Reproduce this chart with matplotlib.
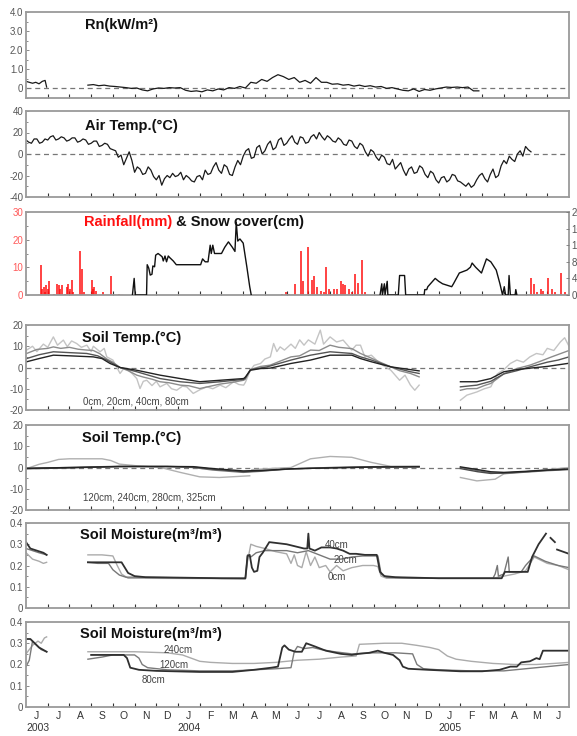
import numpy as np
import matplotlib
matplotlib.use("Agg")
import matplotlib.pyplot as plt
from matplotlib.ticker import MultipleLocator

plt.rcParams["font.family"] = ["Liberation Sans", "DejaVu Sans"]

# x axis is in months counted from 1 Jun 2003
MONTHS = ["J", "J", "A", "S", "O", "N", "D", "J", "F", "M", "A", "M",
          "J", "J", "A", "S", "O", "N", "D", "J", "F", "M", "A", "M", "J"]
YEARS = [(0.55, "2003"), (7.5, "2004"), (19.5, "2005")]

# ---- net radiation (kW/m2) ----
rn_a = [(0.0, 0.35), (0.15, 0.3), (0.3, 0.25), (0.45, 0.3), (0.6, 0.22),
        (0.75, 0.35), (0.88, 0.4), (0.95, 0.05)]
rn_b_start = 2.85
rn_b = [0.15, 0.18, 0.12, 0.15, 0.1, 0.08, 0.05, 0.02, -0.02, 0.0, -0.1, -0.15,
        -0.05, 0.0, -0.02, 0.02, 0.0, 0.02, -0.12, -0.18, -0.15, -0.2, -0.1, -0.15,
        -0.05, -0.1, 0.02, -0.02, 0.08, 0.0, 0.3, 0.25, 0.45, 0.35, 0.55, 0.7,
        0.6, 0.45, 0.55, 0.3, 0.4, 0.25, 0.55, 0.3, 0.3, 0.2, 0.22, 0.15,
        0.18, 0.1, 0.15, 0.08, 0.12, 0.05, 0.08, -0.02, 0.02, -0.05, -0.12, -0.15,
        -0.05, -0.18, -0.08, -0.12, -0.05, 0.0, 0.05, 0.03, 0.05, 0.02, 0.05, -0.15,
        -0.15]

# ---- air temperature (deg C), every eighth of a month from 1 Jun 2003 ----
air = [13, 11, 10, 14, 14, 10, 11, 14,
       13, 16, 17, 13, 14, 16, 15, 12,
       13, 15, 15, 11, 12, 14, 13, 9,
       10, 12, 12, 7, 8, 10, 9, 5,
       4, 3, -3, -1, -10, -4, 2, -6,
       -17, -12, -14, -19, -18, -12, -15, -21,
       -24, -20, -29, -23, -20, -22, -18, -21,
       -20, -17, -24, -20, -22, -25, -26, -21,
       -20, -24, -15, -19, -18, -12, -8, -15,
       -18, -10, -12, -19, -20, -12, -6, -10,
       -2, 3, 5, -4, -3, 6, 8, 0,
       3, 9, 12, 4, 6, 13, 15, 8,
       10, 14, 17, 11, 9, 16, 15, 10,
       11, 16, 18, 14, 20, 16, 13, 17,
       15, 12, 11, 15, 13, 9, 8, 13,
       12, 7, 5, 10, 8, 2, -2, 4,
       2, -3, -6, -1, -3, -9, -10, -5,
       -14, -11, -8, -15, -20, -14, -12, -18,
       -17, -11, -13, -19, -22, -16, -18, -24,
       -27, -22, -21, -26, -24, -19, -20, -25,
       -26, -28, -30, -27, -31, -29, -24, -20,
       -18, -23, -26, -19, -14, -22, -20, -11,
       -6, -9, -2, -5, -7, 0, 3, -2,
       7, 4, 2]

# ---- rainfall (mm) and snow cover (cm) ----
rain = [(0.68, 11), (0.75, 2), (0.82, 3), (0.87, 1), (0.92, 3.5), (0.99, 2),
        (1.06, 5), (1.3, 0.5), (1.45, 4), (1.52, 3.5), (1.58, 2), (1.66, 3.5),
        (1.8, 0.5), (1.88, 3), (1.95, 4), (2.02, 2), (2.1, 5.5), (2.16, 1),
        (2.49, 16), (2.6, 9.5), (2.66, 1), (3.03, 5.5), (3.08, 2), (3.15, 3),
        (3.22, 1.5), (3.56, 1), (3.92, 7), (4.3, 0.5),
        (11.8, 0.5), (11.95, 1), (12.1, 0.5), (12.38, 4), (12.64, 16), (12.76, 5),
        (12.98, 17.5), (13.15, 5.5), (13.28, 7), (13.4, 3), (13.57, 1.5), (13.7, 1),
        (13.79, 10), (13.95, 2), (14.17, 2), (14.33, 2), (14.51, 5), (14.6, 4),
        (14.68, 3.5), (14.85, 2), (15.0, 1), (15.14, 7.5), (15.3, 4.5), (15.48, 12.5),
        (15.62, 1),
        (23.27, 6), (23.4, 4), (23.52, 1), (23.7, 2), (23.78, 1.5), (24.03, 6),
        (24.2, 2), (24.37, 1), (24.63, 8), (24.8, 1)]
rain_seasons = [(0.55, 4.4), (11.75, 15.7), (23.15, 25.0)]
snow = [(4.9, 0), (4.98, 4.0), (5.03, 0), (5.55, 0), (5.58, 7.3), (5.65, 6.5),
        (5.72, 4.8), (5.8, 5.0), (5.84, 7.0), (5.92, 6.8), (5.97, 9.6), (6.08, 10.0),
        (6.18, 9.6), (6.27, 9.2), (6.32, 8.2), (6.4, 9.4), (6.47, 8.0), (6.55, 9.4),
        (6.62, 9.0), (6.78, 8.2), (6.92, 7.3), (7.28, 7.3), (8.04, 7.3), (8.13, 8.7),
        (8.25, 8.0), (8.38, 8.0), (8.48, 12.0), (8.53, 10.0), (8.6, 12.0), (8.68, 10.0),
        (9.0, 10.0), (9.15, 11.5), (9.32, 12.8), (9.5, 11.5), (9.62, 10.5), (9.68, 17.5),
        (9.75, 13.0), (9.85, 13.5), (10.0, 12.5), (10.17, 6.7), (10.3, 2.0), (10.37, 0),
        None,
        (16.3, 0), (16.38, 2.7), (16.41, 0), (16.5, 2.7), (16.53, 0), (16.63, 3.3),
        (16.66, 0), (17.14, 0), (17.2, 4.7), (17.43, 4.7), (17.48, 0), (18.33, 0),
        (18.36, 1.3), (18.45, 1.3), (18.5, 2.0), (18.84, 4.0), (19.0, 3.3), (19.18, 2.7),
        (19.6, 2.0), (19.68, 2.7), (19.95, 5.3), (20.3, 6.0), (20.46, 6.7), (20.54, 7.7),
        (20.7, 6.7), (20.97, 5.3), (21.2, 8.7), (21.4, 8.0), (21.65, 6.0), (21.82, 2.7),
        (21.94, 0), (22.02, 2.0), (22.08, 0), (22.2, 0), (22.24, 4.7), (22.3, 0),
        (22.52, 0), (22.55, 1.3), (22.6, 0)]

# ---- soil temperature 0-80 cm (deg C) ----
st0 = [(0.03, 8.2), (0.3, 10), (0.5, 7.5), (0.8, 11), (1.0, 9.5), (1.26, 14.4),
       (1.45, 10.5), (1.72, 12.9), (1.9, 9.8), (2.1, 12.5), (2.33, 11.3), (2.55, 9.5),
       (2.8, 10.5), (3.0, 7.5), (3.1, 10.0), (3.41, 7.4), (3.6, 9.0), (3.72, 5.0),
       (4.0, 3.5), (4.17, 0.3), (4.33, -2.8), (4.5, -0.5), (4.64, -0.5), (4.9, -3.0),
       (5.1, -5.2), (5.25, -9.9), (5.4, -6.5), (5.56, -6.0), (5.8, -8.5), (6.0, -6.5),
       (6.17, -9.1), (6.48, -7.5), (6.7, -10.0), (6.94, -10.7), (7.2, -8.8), (7.4, -9.1),
       (7.7, -12.2), (8.0, -10.5), (8.33, -9.1), (8.6, -10.0), (8.94, -8.3), (9.2, -9.5),
       (9.56, -6.7), (9.8, -8.0), (10.02, -8.3), (10.1, -7.0), (10.33, -1.3), (10.5, 1.0),
       (10.8, 1.9), (11.0, 4.0), (11.25, 5.0), (11.4, 11.3), (11.55, 7.5), (11.7, 9.7),
       (11.9, 8.2), (12.2, 11.0), (12.4, 9.0), (12.6, 13.0), (12.8, 10.5), (13.0, 13.0),
       (13.3, 11.0), (13.55, 17.6), (13.7, 11.0), (14.0, 14.4), (14.3, 12.0), (14.6, 12.9),
       (15.0, 8.2), (15.2, 10.5), (15.4, 10.5), (15.6, 5.0), (15.9, 5.8), (16.3, 1.9),
       (16.8, -1.3), (17.2, -6.0), (17.45, -3.6), (17.7, -8.3), (17.9, -10.7), (18.1, -8.3),
       None,
       (20.0, -15.4), (20.3, -13.0), (20.76, -11.5), (21.1, -10.0), (21.4, -9.1), (21.7, -3.0),
       (22.0, -1.0), (22.3, 1.9), (22.6, 3.5), (22.9, 2.5), (23.2, 5.0), (23.5, 6.6),
       (23.8, 6.0), (24.0, 9.0), (24.3, 8.0), (24.6, 12.0), (24.8, 14.0), (25.0, 10.0)]
st20 = [(0.03, 6.6), (0.5, 8.5), (1.0, 9.0), (1.26, 9.7), (1.6, 9.0), (2.0, 9.5),
        (2.4, 8.6), (2.8, 8.2), (3.1, 8.0), (3.4, 6.5), (3.72, 4.0), (4.0, 2.5),
        (4.33, 0.0), (4.7, -1.5), (5.1, -3.6), (5.4, -4.5), (5.8, -5.5), (6.17, -6.7),
        (6.6, -7.2), (7.1, -8.3), (7.5, -8.6), (8.0, -9.9), (8.4, -9.0), (8.94, -7.8),
        (9.5, -7.0), (10.02, -6.0), (10.1, -5.5), (10.33, -1.0), (10.8, 0.5), (11.24, 1.1),
        (11.7, 3.0), (12.2, 5.0), (12.6, 5.5), (13.1, 8.2), (13.5, 8.0), (14.0, 10.5),
        (14.4, 9.5), (15.0, 8.9), (15.4, 6.6), (15.9, 4.4), (16.3, 2.5), (16.8, 0.3),
        (17.2, -1.5), (17.7, -2.8), (18.1, -4.4),
        None,
        (20.0, -10.7), (20.3, -10.0), (20.76, -9.9), (21.1, -8.5), (21.4, -7.5), (22.0, -3.0),
        (22.6, -0.5), (23.2, 1.1), (23.7, 3.0), (24.2, 5.0), (24.6, 6.5), (25.0, 8.0)]
st40 = [(0.03, 4.2), (0.6, 6.0), (1.26, 7.4), (2.0, 7.0), (2.8, 6.6), (3.3, 5.5),
        (3.72, 3.5), (4.33, 0.0), (5.1, -2.0), (5.6, -3.5), (6.17, -5.2), (7.1, -6.7),
        (8.0, -7.5), (8.94, -6.7), (10.02, -5.6), (10.1, -5.0), (10.33, -1.0), (11.1, 0.3),
        (12.2, 3.5), (13.1, 5.8), (14.0, 7.4), (15.0, 6.6), (15.4, 5.0), (15.9, 3.5),
        (16.8, 0.3), (17.7, -2.0), (18.1, -2.8),
        None,
        (20.0, -9.1), (20.76, -8.3), (21.4, -6.5), (22.0, -3.0), (22.6, -1.5), (23.2, 0.3),
        (24.0, 2.5), (24.5, 3.5), (25.0, 5.0)]
st80 = [(0.03, 2.7), (0.6, 4.2), (1.26, 5.8), (2.0, 5.5), (3.1, 5.0), (3.5, 4.2),
        (3.87, 1.9), (4.33, 0.0), (5.1, -1.3), (6.17, -3.6), (7.1, -5.2), (8.0, -6.7),
        (8.94, -6.0), (10.02, -5.2), (10.1, -4.5), (10.33, -1.3), (10.8, -0.5), (11.24, -0.3),
        (12.2, 1.9), (13.1, 3.5), (14.0, 5.8), (15.0, 5.8), (15.4, 4.2), (15.9, 2.7),
        (16.8, 0.3), (17.7, -1.0), (18.1, -1.6),
        None,
        (20.0, -6.7), (20.76, -6.7), (21.4, -5.2), (22.0, -2.0), (22.6, -1.0), (23.2, -0.3),
        (24.0, 0.5), (25.0, 2.0)]

# ---- soil temperature 120-325 cm (deg C) ----
st120 = [(0.03, -0.5), (0.6, 1.5), (1.0, 2.4), (1.5, 3.8), (2.0, 4.1), (3.5, 4.1),
         (3.9, 3.3), (4.3, 1.6), (5.1, 0.8), (6.2, 0.0), (7.1, -2.3), (8.0, -4.4),
         (8.9, -4.7), (10.3, -3.9), None,
         (10.4, -1.0), (11.24, -0.5), (12.2, 0.0), (13.1, 4.1), (14.0, 5.2), (15.0, 4.8),
         (15.9, 2.4), (16.8, 0.5), (18.1, 0.5), None,
         (20.0, -4.7), (20.76, -6.3), (21.6, -5.5), (22.0, -3.0), (23.0, -2.0), (24.0, -1.0),
         (25.0, 0.0)]
st240 = [(0.03, -0.3), (2.0, 0.0), (4.3, 0.6), (6.5, 0.4), (7.7, 0.0), (8.6, -1.2),
         (10.0, -2.3), (10.8, -1.8), (11.7, -1.0), (12.2, -0.6), (14.0, 0.0), (16.0, 0.4),
         (18.1, 0.5), None,
         (20.0, 0.0), (20.8, -1.5), (21.4, -2.5), (22.0, -2.8), (23.0, -2.2), (24.0, -1.5),
         (25.0, -1.0)]
st280 = [(0.03, -0.6), (2.0, -0.2), (4.3, 0.5), (6.5, 0.5), (7.7, 0.2), (8.6, -0.8),
         (10.0, -2.0), (10.8, -1.6), (11.7, -1.0), (12.2, -0.7), (14.0, -0.1), (16.0, 0.3),
         (18.1, 0.4), None,
         (20.0, -0.5), (20.8, -2.0), (21.4, -2.8), (22.0, -2.6), (23.0, -2.0), (24.0, -1.3),
         (25.0, -0.8)]
st325 = [(0.03, -0.4), (2.0, 0.0), (4.3, 0.4), (6.5, 0.5), (7.7, 0.4), (8.6, -0.5),
         (10.0, -1.6), (10.8, -1.4), (11.7, -0.9), (12.2, -0.6), (14.0, -0.2), (16.0, 0.2),
         (18.1, 0.3), None,
         (20.0, 0.3), (20.8, -1.0), (21.4, -2.0), (22.0, -2.3), (23.0, -1.8), (24.0, -1.2),
         (25.0, -0.7)]

# ---- soil moisture 0-40 cm (m3/m3) ----
sm0 = [(0.0, 0.26), (0.3, 0.23), (0.6, 0.22), (0.8, 0.21), (0.95, 0.215), None,
       (2.85, 0.25), (3.5, 0.25), (4.0, 0.245), (4.2, 0.2), (4.4, 0.16), (4.7, 0.14),
       (10.1, 0.138), (10.2, 0.22), (10.35, 0.3), (10.6, 0.29), (11.0, 0.28), (11.5, 0.265),
       (12.0, 0.255), (12.2, 0.21), (12.35, 0.25), (12.5, 0.2), (12.7, 0.19), (12.9, 0.265),
       (13.1, 0.2), (13.3, 0.24), (13.5, 0.19), (13.8, 0.2), (14.0, 0.17), (14.3, 0.2),
       (14.6, 0.175), (15.0, 0.19), (15.5, 0.2), (16.0, 0.2), (16.2, 0.195), (16.35, 0.15),
       (16.6, 0.14), (21.5, 0.14), (22.0, 0.15), (22.5, 0.16), (23.0, 0.175), (23.4, 0.24),
       (24.0, 0.21), (24.5, 0.2), (25.0, 0.18)]
sm20 = [(0.0, 0.28), (0.3, 0.27), (0.6, 0.26), (0.95, 0.25), None,
        (2.85, 0.215), (3.3, 0.21), (3.8, 0.21), (4.0, 0.18), (4.3, 0.155), (4.6, 0.145),
        (5.0, 0.145), (10.1, 0.138), (10.2, 0.25), (10.35, 0.24), (10.6, 0.26), (11.0, 0.27),
        (11.5, 0.27), (12.0, 0.27), (12.5, 0.26), (13.0, 0.27), (13.5, 0.25), (14.0, 0.23),
        (14.5, 0.23), (15.0, 0.24), (15.5, 0.245), (16.2, 0.245), (16.35, 0.16), (16.6, 0.145),
        (18.0, 0.14), (21.5, 0.14), (21.6, 0.16), (21.7, 0.2), (21.75, 0.15), (22.0, 0.16),
        (22.2, 0.24), (22.25, 0.17), (22.8, 0.17), (23.0, 0.2), (23.4, 0.245), (23.9, 0.22),
        (24.5, 0.2), (25.0, 0.19)]
sm40 = [(0.0, 0.31), (0.2, 0.28), (0.5, 0.27), (0.8, 0.26), (0.95, 0.25), None,
        (2.85, 0.215), (3.5, 0.215), (4.4, 0.215), (4.55, 0.19), (4.7, 0.165), (5.0, 0.15),
        (5.5, 0.145), (7.0, 0.143), (9.0, 0.14), (10.1, 0.14), (10.2, 0.245), (10.3, 0.25),
        (10.4, 0.19), (10.5, 0.17), (10.65, 0.175), (10.75, 0.24), (10.9, 0.26), (11.2, 0.31),
        (11.6, 0.305), (12.0, 0.3), (12.4, 0.29), (12.8, 0.28), (12.95, 0.28), (13.0, 0.35),
        (13.05, 0.28), (13.3, 0.27), (13.6, 0.285), (14.0, 0.285), (14.3, 0.28), (14.6, 0.27),
        (14.9, 0.255), (15.2, 0.255), (15.6, 0.25), (16.15, 0.25), (16.3, 0.17), (16.5, 0.15),
        (17.0, 0.145), (19.0, 0.14), (21.9, 0.14), (22.05, 0.17), (23.1, 0.17), (23.3, 0.24),
        (23.6, 0.3), (23.94, 0.35), None, (24.15, 0.33), (24.35, 0.31), None,
        (24.45, 0.275), (25.0, 0.255)]

# ---- soil moisture 80-240 cm (m3/m3) ----
sm80 = [(0.0, 0.32), (0.2, 0.32), (0.4, 0.3), (0.6, 0.28), (0.95, 0.26), None,
        (3.0, 0.245), (4.5, 0.245), (4.65, 0.23), (4.8, 0.185), (5.2, 0.175), (6.0, 0.17),
        (8.0, 0.165), (9.5, 0.165), (10.5, 0.175), (11.3, 0.185), (11.6, 0.19), (11.8, 0.28),
        (11.9, 0.29), (12.1, 0.27), (12.4, 0.26), (12.7, 0.26), (12.9, 0.3), (13.3, 0.285),
        (13.8, 0.265), (14.5, 0.25), (15.0, 0.245), (15.3, 0.25), (15.8, 0.255), (16.2, 0.265),
        (16.5, 0.255), (16.9, 0.245), (17.2, 0.22), (17.35, 0.19), (17.6, 0.18), (18.5, 0.175),
        (20.0, 0.168), (21.0, 0.168), (21.8, 0.175), (22.3, 0.19), (22.6, 0.19), (22.8, 0.21),
        (23.2, 0.215), (23.5, 0.23), (23.65, 0.225), (23.8, 0.265), (25.0, 0.265)]
sm120 = [(0.0, 0.19), (0.15, 0.22), (0.3, 0.31), (0.5, 0.29), (0.7, 0.27), (0.95, 0.26),
         None,
         (2.85, 0.225), (3.5, 0.235), (4.0, 0.245), (5.0, 0.245), (5.2, 0.23), (5.35, 0.2),
         (5.6, 0.185), (6.5, 0.175), (8.0, 0.17), (9.5, 0.17), (10.5, 0.175), (11.5, 0.18),
         (12.2, 0.185), (12.35, 0.26), (12.5, 0.285), (12.8, 0.275), (13.2, 0.28), (13.6, 0.27),
         (14.2, 0.26), (15.0, 0.25), (16.0, 0.255), (17.0, 0.255), (17.8, 0.25), (18.0, 0.2),
         (18.3, 0.18), (19.0, 0.175), (20.5, 0.17), (22.0, 0.17), (23.0, 0.18), (24.0, 0.19),
         (25.0, 0.2)]
sm240 = [(0.0, 0.25), (0.3, 0.29), (0.55, 0.31), (0.7, 0.3), (0.85, 0.325), (0.95, 0.33),
         None,
         (2.85, 0.26), (5.0, 0.26), (6.5, 0.255), (7.2, 0.245), (7.6, 0.23), (8.0, 0.215),
         (8.5, 0.21), (9.5, 0.205), (10.5, 0.205), (11.5, 0.21), (12.5, 0.22), (13.5, 0.225),
         (14.5, 0.235), (15.2, 0.24), (15.35, 0.295), (16.5, 0.3), (17.3, 0.3), (18.0, 0.29),
         (18.6, 0.28), (19.0, 0.27), (19.4, 0.24), (19.8, 0.225), (20.5, 0.215), (21.5, 0.205),
         (22.5, 0.2), (23.5, 0.2), (24.3, 0.205), (25.0, 0.21)]


def xy(pairs):
    arr = np.array([(np.nan, np.nan) if p is None else p for p in pairs], dtype=float)
    return arr[:, 0], arr[:, 1]


W, H = 577, 736
LEFT, RIGHT = 26, 569
FRAME = "#9a9a9a"
TICKC = "#555555"
TITLE_KW = dict(fontsize=10.5, fontweight="bold", color="#111111", va="center", ha="left")

fig = plt.figure(figsize=(W / 100, H / 100), dpi=100)


def make_axes(top, bottom, ylim, yticks, ylabels, minor):
    ax = fig.add_axes([LEFT / W, 1 - bottom / H, (RIGHT - LEFT) / W, (bottom - top) / H])
    ax.set_xlim(0, 25)
    ax.set_ylim(*ylim)
    ax.set_xticks(np.arange(1, 25))
    ax.set_xticklabels([])
    ax.set_yticks(yticks)
    ax.set_yticklabels(ylabels)
    ax.yaxis.set_minor_locator(MultipleLocator(minor))
    ax.tick_params(axis="x", direction="in", length=3, width=0.8, color="#333333")
    ax.tick_params(axis="y", which="both", direction="in", length=2.5, width=0.6,
                   color="#777777", labelsize=7, labelcolor=TICKC, pad=2)
    ax.tick_params(axis="y", which="minor", length=1.5)
    for s in ax.spines.values():
        s.set_color(FRAME)
        s.set_linewidth(1.3)
    return ax


def zero_line(ax):
    ax.axhline(0, color="#777777", lw=0.9, ls=(0, (4, 3)), zorder=1)


# panel 1: Rn
ax1 = make_axes(12, 97.5, (-0.5, 4.0), [0, 1, 2, 3, 4], ["0", "1.0", "2.0", "3.0", "4.0"], 0.5)
zero_line(ax1)
m, v = xy(rn_a)
ax1.plot(m, v, color="#1a1a1a", lw=0.9)
ax1.plot(rn_b_start + 0.25 * np.arange(len(rn_b)), rn_b, color="#1a1a1a", lw=0.9)
ax1.text(2.7, 3.3, "Rn(kW/m\u00b2)", **TITLE_KW)

# panel 2: air temperature
ax2 = make_axes(111, 197, (-40, 40), [-40, -20, 0, 20, 40], ["-40", "-20", "0", "20", "40"], 10)
zero_line(ax2)
ax2.plot(0.125 * np.arange(len(air)), air, color="#1a1a1a", lw=0.9)
ax2.text(2.7, 26, "Air Temp.(\u00b0C)", **TITLE_KW)

# panel 3: rainfall and snow cover
ax3 = make_axes(212, 295, (0, 30), [0, 10, 20, 30], ["0", "10", "20", "30"], 5)
ax3.tick_params(axis="y", labelcolor="#ff5a5a")
m, v = xy(rain)
ax3.vlines(m, 0, v, color="#ff1010", lw=1.1)
for a, b in rain_seasons:
    ax3.plot([a, b], [0, 0], color="#ff1010", lw=1.0)
ax3r = ax3.twinx()
ax3r.set_ylim(0, 20)
ax3r.set_yticks([0, 4, 8, 12, 16, 20])
ax3r.tick_params(axis="y", direction="in", length=2.5, width=0.6, color="#777777",
                 labelsize=7, labelcolor=TICKC, pad=2)
for s in ax3r.spines.values():
    s.set_visible(False)
m, v = xy(snow)
ax3r.plot(m, v, color="#111111", lw=1.0)
t1 = ax3.text(2.65, 26.5, "Rainfall(mm)", **dict(TITLE_KW, color="#ff1010"))
ax3.annotate(" & Snow cover(cm)", xy=(1, 0.5), xycoords=t1, va="center", ha="left",
             fontsize=10.5, fontweight="bold", color="#111111")

# panel 4: shallow soil temperature
ax4 = make_axes(325, 410, (-20, 20), [-20, -10, 0, 10, 20], ["-20", "-10", "0", "10", "20"], 5)
zero_line(ax4)
for pairs, col in [(st0, "#c4c4c4"), (st20, "#8c8c8c"), (st40, "#555555"), (st80, "#222222")]:
    m, v = xy(pairs)
    ax4.plot(m, v, color=col, lw=1.0)
ax4.text(2.6, 14, "Soil Temp.(\u00b0C)", **TITLE_KW)
ax4.text(2.63, -15.8, "0cm, 20cm, 40cm, 80cm", fontsize=7, color="#444444", va="center")

# panel 5: deep soil temperature
ax5 = make_axes(425, 510, (-20, 20), [-20, -10, 0, 10, 20], ["-20", "-10", "0", "10", "20"], 5)
zero_line(ax5)
for pairs, col in [(st120, "#b0b0b0"), (st240, "#777777"), (st280, "#4a4a4a"), (st325, "#222222")]:
    m, v = xy(pairs)
    ax5.plot(m, v, color=col, lw=1.0)
ax5.text(2.6, 14, "Soil Temp.(\u00b0C)", **TITLE_KW)
ax5.text(2.63, -13.9, "120cm, 240cm, 280cm, 325cm", fontsize=7, color="#444444", va="center")

# panel 6: shallow soil moisture
ax6 = make_axes(523, 608, (0, 0.4), [0, 0.1, 0.2, 0.3, 0.4], ["0", "0.1", "0.2", "0.3", "0.4"], 0.05)
for pairs, col, lw in [(sm0, "#ababab", 1.0), (sm20, "#777777", 1.0), (sm40, "#303030", 1.3)]:
    m, v = xy(pairs)
    ax6.plot(m, v, color=col, lw=lw)
ax6.text(2.5, 0.345, "Soil Moisture(m\u00b3/m\u00b3)", **TITLE_KW)
for txt, mx, my in [("40cm", 14.3, 0.296), ("20cm", 14.7, 0.226), ("0cm", 14.3, 0.146)]:
    ax6.text(mx, my, txt, fontsize=7, color="#444444", ha="center", va="center")

# panel 7: deep soil moisture
ax7 = make_axes(622, 707, (0, 0.4), [0, 0.1, 0.2, 0.3, 0.4], ["0", "0.1", "0.2", "0.3", "0.4"], 0.05)
for pairs, col, lw in [(sm240, "#ababab", 1.0), (sm120, "#7a7a7a", 1.0), (sm80, "#303030", 1.3)]:
    m, v = xy(pairs)
    ax7.plot(m, v, color=col, lw=lw)
ax7.text(2.5, 0.345, "Soil Moisture(m\u00b3/m\u00b3)", **TITLE_KW)
for txt, mx, my in [("240cm", 7.0, 0.268), ("120cm", 6.8, 0.2), ("80cm", 5.86, 0.127)]:
    ax7.text(mx, my, txt, fontsize=7, color="#444444", ha="center", va="center")

# month letters and years under the bottom panel
xt = ax7.get_xaxis_transform()
for i, lab in enumerate(MONTHS):
    ax7.text(i + 0.5, -0.05, lab, transform=xt, ha="center", va="top", fontsize=7.5, color="#333333")
for mx, yr in YEARS:
    ax7.text(mx, -0.19, yr, transform=xt, ha="center", va="top", fontsize=7.5, color="#333333")

fig.savefig("out.png", dpi=100)
